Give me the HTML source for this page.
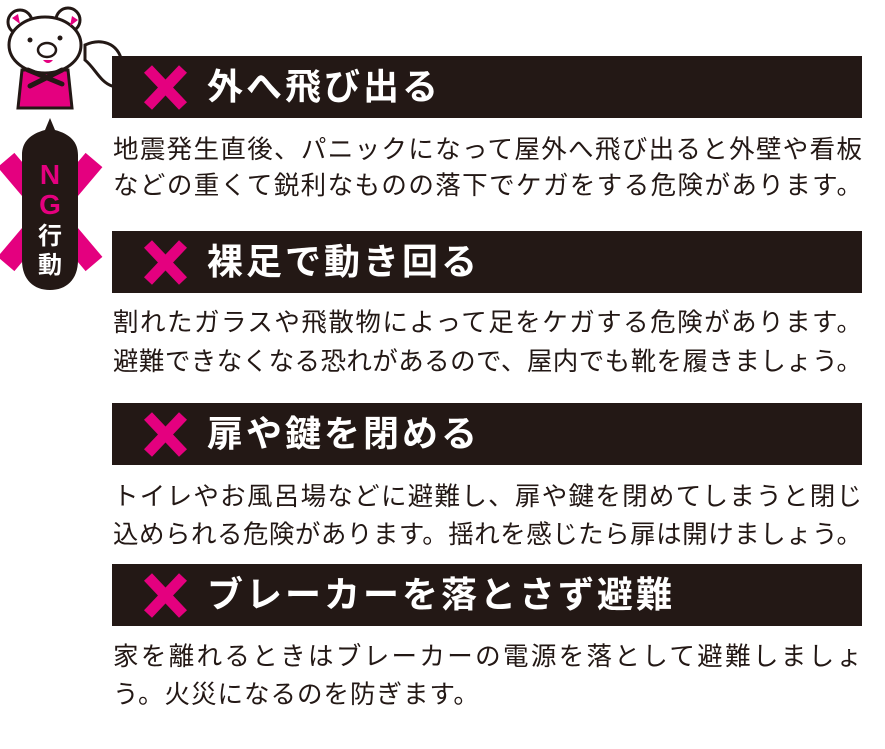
<!DOCTYPE html>
<html><head><meta charset="utf-8"><style>
body{margin:0;width:885px;height:749px;background:#fff;position:relative;overflow:hidden;font-family:"Liberation Sans","Noto Sans CJK JP",sans-serif}
.ban{position:absolute;left:112px;width:750px;height:62px;background:#231815}
.ban .x{position:absolute;left:31px;top:9px;width:45px;height:45px}
.ban .t{position:absolute;left:95px;top:0;line-height:62px;color:#fff;font-size:36px;font-weight:700;letter-spacing:3px;white-space:nowrap}
.ln{position:absolute;left:113px;width:749px;font-size:25.5px;line-height:30px;color:#231815;text-align:justify;text-align-last:justify;white-space:nowrap}
.ln.s{text-align-last:left;letter-spacing:1px}
</style></head><body>
<svg width="0" height="0" style="position:absolute"><defs><g id="px"><path d="M5 4 L40 41 M40 4 L5 41" stroke="#e4007f" stroke-width="11"/></g></defs></svg>

<!-- NG badge -->
<svg style="position:absolute;left:0;top:110px" width="110" height="190">
<path d="M6 50 L94 154 M94 50 L6 154" stroke="#e4007f" stroke-width="22"/>
<path d="M50 8 L55 20 C70 24 78 32 78 45 L78 150 C78 170 66 180 50 180 C34 180 22 170 22 150 L22 45 C22 32 30 24 45 20 Z" fill="#231815"/>
<text x="50" y="74" font-size="28" font-weight="bold" fill="#e4007f" text-anchor="middle" font-family="Liberation Sans,sans-serif">N</text>
<text x="50" y="104" font-size="28" font-weight="bold" fill="#e4007f" text-anchor="middle" font-family="Liberation Sans,sans-serif">G</text>
<text x="50" y="134" font-size="24" font-weight="bold" fill="#fff" text-anchor="middle" font-family="Noto Sans CJK JP,sans-serif">行</text>
<text x="50" y="163" font-size="24" font-weight="bold" fill="#fff" text-anchor="middle" font-family="Noto Sans CJK JP,sans-serif">動</text>
</svg>

<!-- bear -->
<svg style="position:absolute;left:0;top:0" width="140" height="115">
<g stroke="#231815" stroke-width="3" fill="#fff" stroke-linecap="round">
<path d="M85 45 C100 38 118 42 122 62 C126 78 132 84 134 92 C125 92 118 88 112 86 C100 82 95 68 85 60Z"/>
<circle cx="20" cy="22" r="12"/><circle cx="68" cy="20" r="12"/>
<path d="M22 70 L18 108 L72 108 L68 70Z" fill="#e4007f"/>
<ellipse cx="45" cy="45" rx="36" ry="28"/>
<path d="M28 70 L62 84 M62 70 L30 86" stroke-width="5" stroke="#231815"/>
</g>
<path d="M12 18 L18 14 L20 24Z M72 16 L78 20 L70 26Z" fill="#e4007f"/>
<ellipse cx="47" cy="50" rx="9" ry="7" fill="#fff" stroke="#231815" stroke-width="2.5"/>
<circle cx="30" cy="40" r="2.5" fill="#231815"/><circle cx="60" cy="38" r="2.5" fill="#231815"/>
<path d="M43 60 Q48 66 53 60Z" fill="#e4007f"/>
<rect x="24" y="90" width="44" height="16" fill="#e4007f"/>
</svg>

<div class="ban" style="top:56px"><svg class="x"><use href="#px"/></svg><div class="t">外へ飛び出る</div></div>
<div class="ln" style="top:135px">地震発生直後、パニックになって屋外へ飛び出ると外壁や看板</div>
<div class="ln" style="top:171px">などの重くて鋭利なものの落下でケガをする危険があります。</div>

<div class="ban" style="top:231px"><svg class="x"><use href="#px"/></svg><div class="t">裸足で動き回る</div></div>
<div class="ln" style="top:308px">割れたガラスや飛散物によって足をケガする危険があります。</div>
<div class="ln" style="top:347px">避難できなくなる恐れがあるので、屋内でも靴を履きましょう。</div>

<div class="ban" style="top:403px"><svg class="x"><use href="#px"/></svg><div class="t">扉や鍵を閉める</div></div>
<div class="ln" style="top:482px">トイレやお風呂場などに避難し、扉や鍵を閉めてしまうと閉じ</div>
<div class="ln" style="top:520px">込められる危険があります。揺れを感じたら扉は開けましょう。</div>

<div class="ban" style="top:564px"><svg class="x"><use href="#px"/></svg><div class="t">ブレーカーを落とさず避難</div></div>
<div class="ln" style="top:642px">家を離れるときはブレーカーの電源を落として避難しましょ</div>
<div class="ln s" style="top:680px">う。火災になるのを防ぎます。</div>
</body></html>
